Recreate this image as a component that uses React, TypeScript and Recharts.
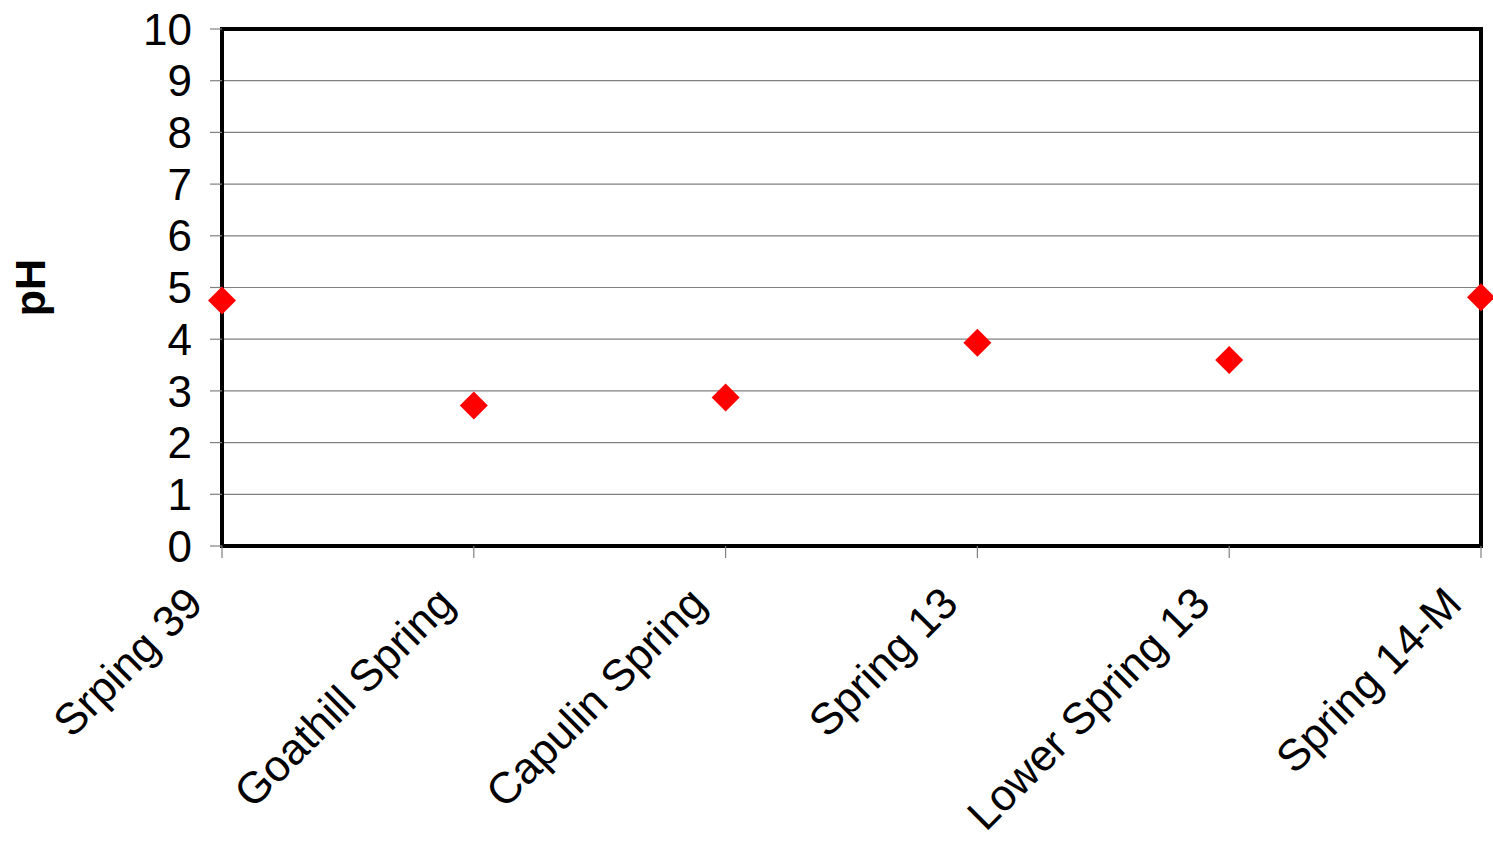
import { LineChart, Line, XAxis, YAxis, CartesianGrid, ReferenceArea } from 'recharts'

// pH measured at each spring
const sites = ['Srping 39', 'Goathill Spring', 'Capulin Spring', 'Spring 13', 'Lower Spring 13', 'Spring 14-M']
const phValues = [4.75, 2.72, 2.87, 3.93, 3.6, 4.81]
const yTicks = [0, 1, 2, 3, 4, 5, 6, 7, 8, 9, 10]

const data = sites.map((site, i) => ({ site, ph: phValues[i] }))

const FONT = '"Liberation Sans", Arial, sans-serif'
const GRID = '#808080'

// red diamond marker
function Diamond(props: any) {
  const { cx, cy } = props
  if (cx == null || cy == null) return null
  const r = 14
  return (
    <polygon
      points={`${cx},${cy - r} ${cx + r},${cy} ${cx},${cy + r} ${cx - r},${cy}`}
      fill="#ff0000"
    />
  )
}

// site names slanted at 45°
function SiteTick(props: any) {
  const { x, y, payload } = props
  return (
    <g transform={`translate(${x - 17},${y + 48})`}>
      <text
        transform="rotate(-45)"
        textAnchor="end"
        fontSize={44}
        fontFamily={FONT}
        fill="#000"
      >
        {payload.value}
      </text>
    </g>
  )
}

function AxisTitle(props: any) {
  const { viewBox } = props
  const x = viewBox.x + 45
  const y = viewBox.y + viewBox.height / 2
  return (
    <text
      x={x}
      y={y}
      transform={`rotate(-90, ${x}, ${y})`}
      textAnchor="middle"
      fontSize={43}
      fontWeight="bold"
      fontFamily={FONT}
      fill="#000"
    >
      pH
    </text>
  )
}

export default function App() {
  return (
    <div style={{ position: 'absolute', left: 0, top: 0, width: 1493, height: 843, background: '#fff' }}>
      <LineChart
        width={1493}
        height={843}
        data={data}
        margin={{ top: 29, right: 12, bottom: 0, left: 0 }}
      >
        <CartesianGrid horizontal vertical={false} stroke={GRID} strokeWidth={1.2} />
        <XAxis
          dataKey="site"
          interval={0}
          axisLine={false}
          tickLine={{ stroke: GRID, strokeWidth: 1.2 }}
          tickSize={12}
          tickMargin={0}
          tick={<SiteTick />}
          height={297}
        />
        <YAxis
          domain={[0, 10]}
          ticks={yTicks}
          interval={0}
          width={222}
          axisLine={false}
          tickLine={{ stroke: GRID, strokeWidth: 1.2 }}
          tickSize={12}
          tickMargin={18}
          tick={{ fontSize: 44, fontFamily: FONT, fill: '#000' }}
          label={<AxisTitle />}
        />
        <ReferenceArea
          x1="Srping 39"
          x2="Spring 14-M"
          y1={0}
          y2={10}
          fill="none"
          stroke="#000"
          strokeWidth={4}
          ifOverflow="visible"
        />
        <Line
          dataKey="ph"
          stroke="none"
          dot={<Diamond />}
          activeDot={false}
          isAnimationActive={false}
        />
      </LineChart>
    </div>
  )
}
